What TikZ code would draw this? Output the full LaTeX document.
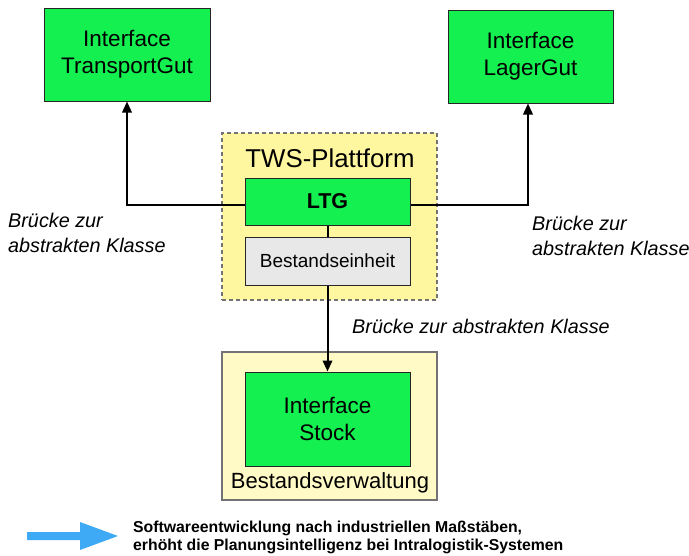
\documentclass[tikz,border=0pt]{standalone}
\usepackage{fontspec}
\setmainfont{Liberation Sans}
\usetikzlibrary{arrows.meta}
\definecolor{boxgreen}{RGB}{20,240,80}
\definecolor{platyellow}{RGB}{255,246,160}
\definecolor{stockyellow}{RGB}{255,250,198}
\definecolor{framegray}{RGB}{115,115,115}
\definecolor{unitgray}{RGB}{232,232,232}
\definecolor{hintblue}{RGB}{62,170,245}
\begin{document}
\begin{tikzpicture}[x=1pt,y=-1pt,
  iface/.style={draw=black!85, line width=1pt, fill=boxgreen,
    minimum width=166pt, minimum height=93pt, inner sep=0pt,
    align=center, font=\fontsize{22.5}{27}\selectfont},
  inner/.style={draw=black!85, line width=1pt, minimum width=165pt,
    inner sep=0pt, align=center},
  group/.style={draw=framegray, line width=2.5pt, minimum width=215pt,
    inner sep=0pt},
  link/.style={draw=black, line width=2pt},
  arr/.style={link, -{Triangle[length=11pt,width=9.5pt]}},
  bridge/.style={inner sep=0pt, align=left,
    font=\fontsize{19.8}{25}\selectfont\itshape}
]
\useasboundingbox (0,0) rectangle (689,555);

% grouping frames
\node[group, dashed, dash pattern=on 4pt off 3pt, fill=platyellow,
  minimum height=167pt] (tws) at (329.5,216.5) {};
\node[group, fill=stockyellow, minimum height=148pt] (verw) at (329.5,426) {};
\node[font=\fontsize{25.8}{30}\selectfont, inner sep=0pt, anchor=base]
  (twslabel) at (330,167) {TWS-Plattform};
\node[font=\fontsize{22}{27}\selectfont, inner sep=0pt, anchor=base]
  (verwlabel) at (330,488) {Bestandsverwaltung};

% interface boxes
\node[iface] (tg) at (127,54.5) {Interface\\TransportGut};
\node[iface, minimum width=165pt] (lg) at (530.5,56.5) {Interface\\LagerGut};
\node[iface, minimum width=165pt, minimum height=94pt] (stock) at (327.5,419) {Interface\\Stock};

% platform content
\node[inner, fill=boxgreen, minimum height=47pt,
  font=\fontsize{21.5}{26}\selectfont\bfseries] (ltg) at (327.5,201.5) {LTG};
\node[inner, fill=unitgray, minimum height=48pt,
  font=\fontsize{19}{23}\selectfont] (unit) at (327.5,261) {Bestandseinheit};

% connectors
\draw[arr] ([yshift=-3.5pt]ltg.west) -| (tg.south);
\draw[arr] ([yshift=-3.5pt]ltg.east) -| ([xshift=-2.5pt]lg.south);
\draw[link] (ltg.south) -- (unit.north);
\draw[arr] (unit.south) -- (stock.north);

% bridge labels (base anchor sits on the last line)
\node[bridge, anchor=base west] (lbl) at (8,252) {Brücke zur\\abstrakten Klasse};
\node[bridge, anchor=base west] (rbl) at (532,255) {Brücke zur\\abstrakten Klasse};
\node[bridge, anchor=base west] (dbl) at (352,333) {Brücke zur abstrakten Klasse};

% summary note
\fill[hintblue] (27,532) -- (80,532) -- (80,522) -- (118,536)
  -- (80,550) -- (80,540) -- (27,540) -- cycle;
\node[inner sep=0pt, anchor=base west, align=left,
  font=\fontsize{15.8}{17.5}\selectfont\bfseries] (note) at (133,550)
  {Softwareentwicklung nach industriellen Maßstäben,\\
   erhöht die Planungsintelligenz bei Intralogistik-Systemen};
\end{tikzpicture}
\end{document}
